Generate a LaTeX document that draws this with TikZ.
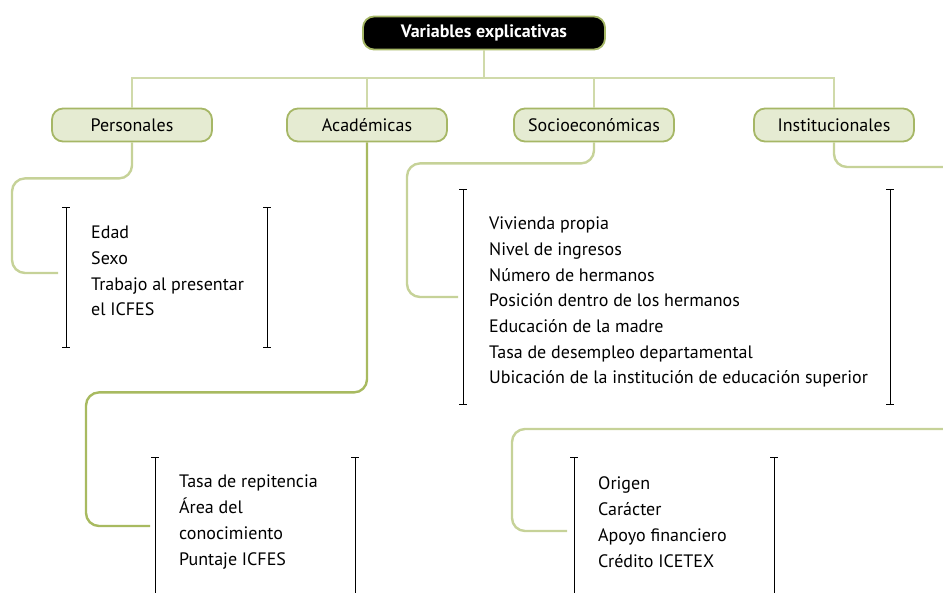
\documentclass[tikz,border=0pt]{standalone}
\usepackage{fontspec}
\setmainfont{PT Sans}
\usetikzlibrary{positioning}

\definecolor{boxfill}{RGB}{229,235,210}
\definecolor{boxline}{RGB}{166,183,102}
\definecolor{buslight}{RGB}{208,218,170}
\definecolor{stemlight}{RGB}{198,210,152}
\definecolor{stemdark}{RGB}{168,186,96}

\tikzset{
  root/.style={draw=boxline, fill=black, text=white, line width=1.8pt,
    rounded corners=11pt, minimum width=242pt, minimum height=33pt,
    font=\bfseries\fontsize{18}{20}\selectfont},
  group/.style={draw=boxline, fill=boxfill, line width=1.8pt,
    rounded corners=11pt, minimum width=160pt, minimum height=33pt,
    font=\fontsize{18}{20}\selectfont},
  bus/.style={draw=buslight, line width=2.4pt},
  stem/.style={draw=stemlight, line width=2.4pt, rounded corners=13pt},
  items/.style={align=left, anchor=base west, inner sep=0pt,
    font=\fontsize{18}{25.7}\selectfont},
  bracket/.style={draw=black, line width=0.8pt}
}

\begin{document}
\begin{tikzpicture}[x=1pt, y=-1pt]

    % Frame of the page
    \path[use as bounding box] (0,0) rectangle (943,593);
    \clip (0,0) rectangle (943,593);

    % Root and the four groups
    \node[root]  (root)  at (484,33)  {Variables explicativas};
    \node[group] (pers)  at (132,125) {Personales};
    \node[group] (acad)  at (367,125) {Académicas};
    \node[group] (socio) at (594,125) {Socioeconómicas};
    \node[group] (inst)  at (834,125) {Institucionales};

    % Item lists (placed by the baseline of their last line)
    \node[items] (persitems)  at (91,316)  {Edad\\Sexo\\Trabajo al presentar\\el ICFES};
    \node[items] (acaditems)  at (179,565) {Tasa de repitencia\\Área del\\conocimiento\\Puntaje ICFES};
    \node[items] (socioitems) at (489,384) {Vivienda propia\\Nivel de ingresos\\Número de hermanos\\Posición dentro de los hermanos\\Educación de la madre\\Tasa de desempleo departamental\\Ubicación de la institución de educación superior};
    \node[items] (institems)  at (598,567) {Origen\\Carácter\\Apoyo financiero\\Crédito ICETEX};

    % Free ends of the connectors
    \coordinate (bus)     at (484,78);
    \coordinate (persend)  at (58,273);
    \coordinate (acadend)  at (150,526);
    \coordinate (socioend) at (458,297);
    \coordinate (instout)  at (950,167);
    \coordinate (instin)   at (950,429);
    \coordinate (instend)  at (567,531);

    % Connect root and groups
    \draw[bus] (root.south) -- (bus);
    \draw[bus] (pers.north) |- (bus) -| (inst.north);
    \draw[bus] (acad.north) -- (acad.north |- bus);
    \draw[bus] (socio.north) -- (socio.north |- bus);

    % Connect groups and lists
    \draw[stem] (pers.south) |- ++(-120,36) |- (persend);
    \draw[stem, draw=stemdark] (acad.south) |- ++(-281,250) |- (acadend);
    \draw[stem] (socio.south) |- ++(-187,21) |- (socioend);
    \draw[stem] (inst.south) |- (instout);
    \draw[stem] (instin) -| ([xshift=-55pt]instend) -- (instend);

    % Brackets round the lists
    \foreach \xl/\xr/\yt/\yb in {66/267/207/348, 463/890/189/405}
    {
        \draw[bracket, |-|] (\xl,\yt) -- (\xl,\yb);
        \draw[bracket, |-|] (\xr,\yt) -- (\xr,\yb);
    }
    \foreach \xl/\xr in {155/355, 574/774}
    {
        \draw[bracket, |-] (\xl,457) -- (\xl,600);
        \draw[bracket, |-] (\xr,457) -- (\xr,600);
    }
\end{tikzpicture}
\end{document}
